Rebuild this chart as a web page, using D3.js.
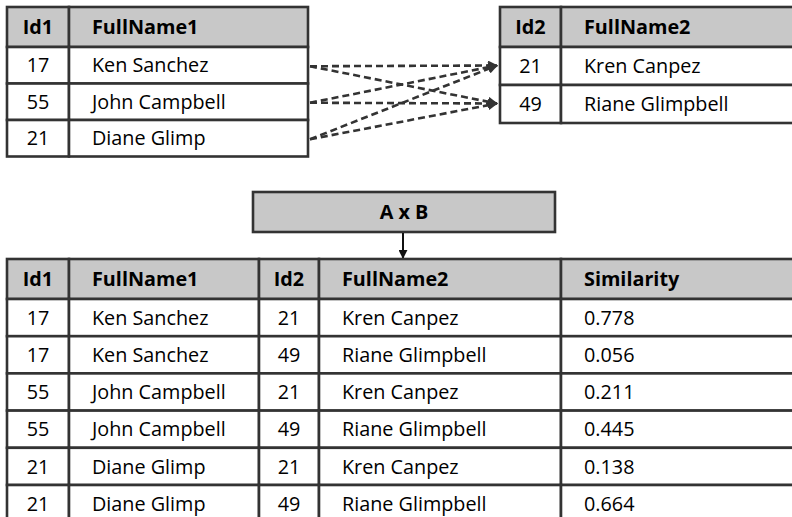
<!DOCTYPE html>
<html>
<head>
<meta charset="utf-8">
<script src="https://cdn.jsdelivr.net/npm/d3@7"></script>
<style>
html,body{margin:0;padding:0;background:#fff;}
svg{display:block;}
text{font-family:"Open Sans","Noto Sans",sans-serif;}
</style>
</head>
<body>
<svg id="chart" width="792" height="517"></svg>
<script>
// ---- data ----
const headersA = ["Id1", "FullName1"];
const idsA = [17, 55, 21];
const namesA = ["Ken Sanchez", "John Campbell", "Diane Glimp"];
const headersB = ["Id2", "FullName2"];
const idsB = [21, 49];
const namesB = ["Kren Canpez", "Riane Glimpbell"];
const headersAB = ["Id1", "FullName1", "Id2", "FullName2", "Similarity"];
const similarity = [0.778, 0.056, 0.211, 0.445, 0.138, 0.664];
const opLabel = "A x B";

// ---- style ----
const stroke = "#333";
const sw = 2.6;
const headFill = "#c8c8c8";
const fs = 19.8;

const svg = d3.select("#chart");

const rowsA = idsA.map((d, i) => [String(d), namesA[i]]);
const rowsB = idsB.map((d, i) => [String(d), namesB[i]]);
const cross = d3.cross(rowsA, rowsB);
const rowsAB = cross.map((p, i) => [p[0][0], p[0][1], p[1][0], p[1][1], similarity[i].toFixed(3)]);

function drawTable(g, headers, rows, colEdges, align, top, headH, rowH) {
  const y = d3.scaleLinear().domain([0, 1]).range([top + headH, top + headH + rowH]);
  const all = [{cells: headers, head: true, y0: top, y1: top + headH}]
    .concat(rows.map((r, i) => ({cells: r, head: false, y0: y(i), y1: y(i + 1)})));
  const rg = g.selectAll("g.row").data(all).join("g").attr("class", "row");
  rg.each(function(r) {
    const sel = d3.select(this);
    r.cells.forEach((c, j) => {
      const x0 = colEdges[j], x1 = colEdges[j + 1];
      sel.append("rect").attr("x", x0).attr("y", r.y0).attr("width", x1 - x0).attr("height", r.y1 - r.y0)
        .attr("fill", r.head ? headFill : "#fff").attr("stroke", stroke).attr("stroke-width", sw);
      const cx = align[j] === "middle" ? (x0 + x1) / 2 : x0 + 23;
      sel.append("text").attr("x", cx).attr("y", (r.y0 + r.y1) / 2).attr("dy", "0.36em")
        .attr("text-anchor", align[j]).attr("font-size", fs)
        .attr("font-weight", r.head ? "bold" : "normal").attr("fill", "#000").text(c);
    });
  });
  return y;
}

// defs arrow marker
const defs = svg.append("defs");
defs.append("marker").attr("id", "arr").attr("viewBox", "0 0 10 10")
  .attr("refX", 9).attr("refY", 5).attr("markerWidth", 3.8).attr("markerHeight", 3.8)
  .attr("markerUnits", "strokeWidth").attr("orient", "auto")
  .append("path").attr("d", "M0,0 L10,5 L0,10 Z").attr("fill", stroke);
defs.append("marker").attr("id", "arrV").attr("viewBox", "0 0 10 10")
  .attr("refX", 9).attr("refY", 5).attr("markerWidth", 4.5).attr("markerHeight", 4.5)
  .attr("markerUnits", "strokeWidth").attr("orient", "auto")
  .append("path").attr("d", "M0,0 L10,5 L0,10 Z").attr("fill", "#111");

// Table A
const gA = svg.append("g");
const yA = drawTable(gA, headersA, rowsA, [7, 69, 308], ["middle", "start"], 7, 40, 36.5);
// Table B
const gB = svg.append("g");
const yB = drawTable(gB, headersB, rowsB, [500, 561, 800], ["middle", "start"], 7, 40, 38);

// dashed links (cross product)
const links = svg.append("g");
links.selectAll("line").data(cross.map((p, i) => ({a: Math.floor(i / idsB.length), b: i % idsB.length})))
  .join("line")
  .attr("x1", 310).attr("y1", d => yA(d.a + 0.5) + 1)
  .attr("x2", 497).attr("y2", d => yB(d.b + 0.5) - 0.5)
  .attr("stroke", stroke).attr("stroke-width", 2.6).attr("stroke-dasharray", "7,4")
  .attr("marker-end", "url(#arr)");

// operator box
svg.append("rect").attr("x", 253).attr("y", 192).attr("width", 302).attr("height", 40)
  .attr("fill", headFill).attr("stroke", stroke).attr("stroke-width", sw);
svg.append("text").attr("x", 404).attr("y", 212).attr("dy", "0.36em").attr("text-anchor", "middle")
  .attr("font-size", fs).attr("font-weight", "bold").text(opLabel);
svg.append("line").attr("x1", 403).attr("y1", 233).attr("x2", 403).attr("y2", 258)
  .attr("stroke", "#111").attr("stroke-width", 2).attr("marker-end", "url(#arrV)");

// Table AB
const gAB = svg.append("g");
drawTable(gAB, headersAB, rowsAB, [7, 69, 259, 319, 561, 800],
  ["middle", "start", "middle", "start", "start"], 259, 40, 37.2);
</script>
</body>
</html>
